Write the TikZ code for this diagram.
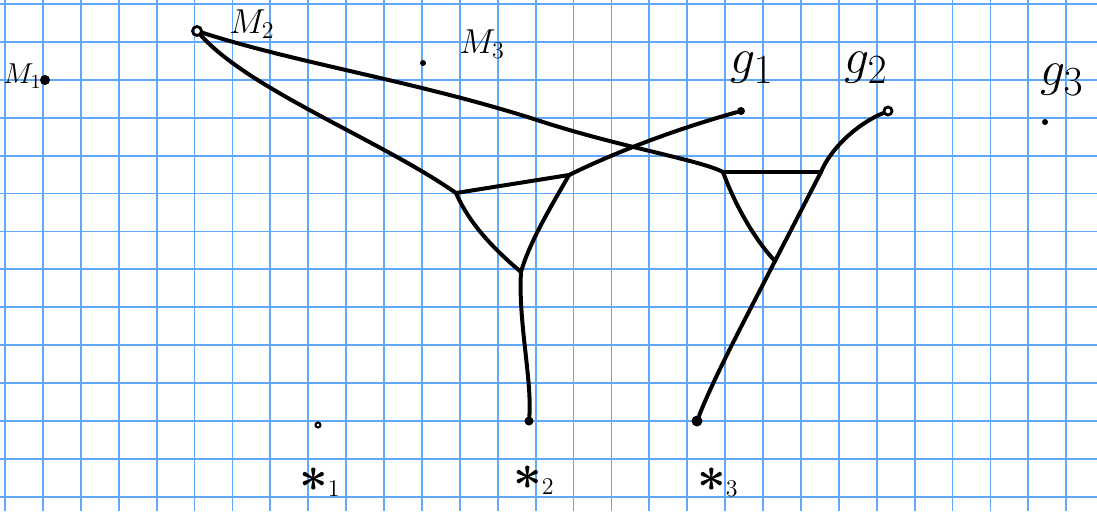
\documentclass[tikz,border=0pt]{standalone}
\usetikzlibrary{positioning}
\definecolor{gridblue}{RGB}{95,168,250}

\begin{document}
\begin{tikzpicture}[
  x=0.5pt,y=-0.5pt,
  gridline/.style={gridblue,line width=0.9pt},
  pt/.style={circle,fill,inner sep=0pt,minimum size=4pt},
  hollow/.style={circle,draw,line width=1.4pt,inner sep=0pt,minimum size=4.5pt},
  lab/.style={font=\LARGE,inner sep=0pt},
  edge/.style={line width=2pt,line cap=round,line join=round}
]
\useasboundingbox (0,0) rectangle (1097,511);
\fill[white] (0,0) rectangle (1097,511);
\foreach \i in {0,...,28}{
  \draw[gridline] (5+37.9*\i,0) -- (5+37.9*\i,511);
}
\foreach \j in {0,...,13}{
  \draw[gridline] (0,4+37.9*\j) -- (1097,4+37.9*\j);
}

% terminals
\node[pt,minimum size=5pt] (M1) at (45,80) {};
\node[hollow] (M2) at (197,31) {};
\node[pt,minimum size=3pt] (M3) at (423,63) {};
\node[pt] (g1) at (741,111) {};
\node[hollow,minimum size=4pt] (g2) at (888,111) {};
\node[pt,minimum size=3pt] (g3) at (1045,122) {};
\node[hollow,minimum size=2.5pt,line width=1pt] (x1) at (318,425) {};
\node[pt,minimum size=4.5pt] (x2) at (529,421) {};
\node[pt,minimum size=5.5pt] (x3) at (697,421) {};

\node[lab,font=\Large,anchor=west] (lM1) at (3,76) {$M_{1}$};
\node[lab] (lM2) at (252,24) {$M_{2}$};
\node[lab] (lM3) at (482,44) {$M_{3}$};
\node[lab,font=\Huge] (lg1) at (752,68) {$g_{1}$};
\node[lab,font=\Huge] (lg2) at (866,68) {$g_{2}$};
\node[lab,font=\Huge] (lg3) at (1062,80) {$g_{3}$};
\node[lab] (lx1) at (320,482) {$\mbox{\Huge\boldmath$\ast$}_{1}$};
\node[lab] (lx2) at (534,480) {$\mbox{\Huge\boldmath$\ast$}_{2}$};
\node[lab] (lx3) at (718,482) {$\mbox{\Huge\boldmath$\ast$}_{3}$};

% steiner points
\coordinate (s1) at (456,193);
\coordinate (s2) at (569,175);
\coordinate (s3) at (521,272);
\coordinate (s4) at (723,172);
\coordinate (s5) at (821,172);
\coordinate (s6) at (775,261);

\draw[edge] (M2) .. controls (250,90) and (380,140) .. (s1);
\draw[edge] (M2) .. controls (300,64) and (420,82) .. (540,121)
  .. controls (620,147) and (700,160) .. (s4);
\draw[edge] (s1) -- (s2);
\draw[edge] (s1) .. controls (470,225) and (495,250) .. (s3);
\draw[edge] (s2) .. controls (555,200) and (530,240) .. (s3);
\draw[edge] (s2) .. controls (620,150) and (680,128) .. (g1);
\draw[edge] (s3) .. controls (518,320) and (532,380) .. (x2);
\draw[edge] (s4) -- (s5);
\draw[edge] (s4) .. controls (735,205) and (755,240) .. (s6);
\draw[edge] (s5) -- (s6);
\draw[edge] (s5) .. controls (830,150) and (855,125) .. (g2);
\draw[edge] (s6) .. controls (750,310) and (715,375) .. (x3);
\end{tikzpicture}
\end{document}
